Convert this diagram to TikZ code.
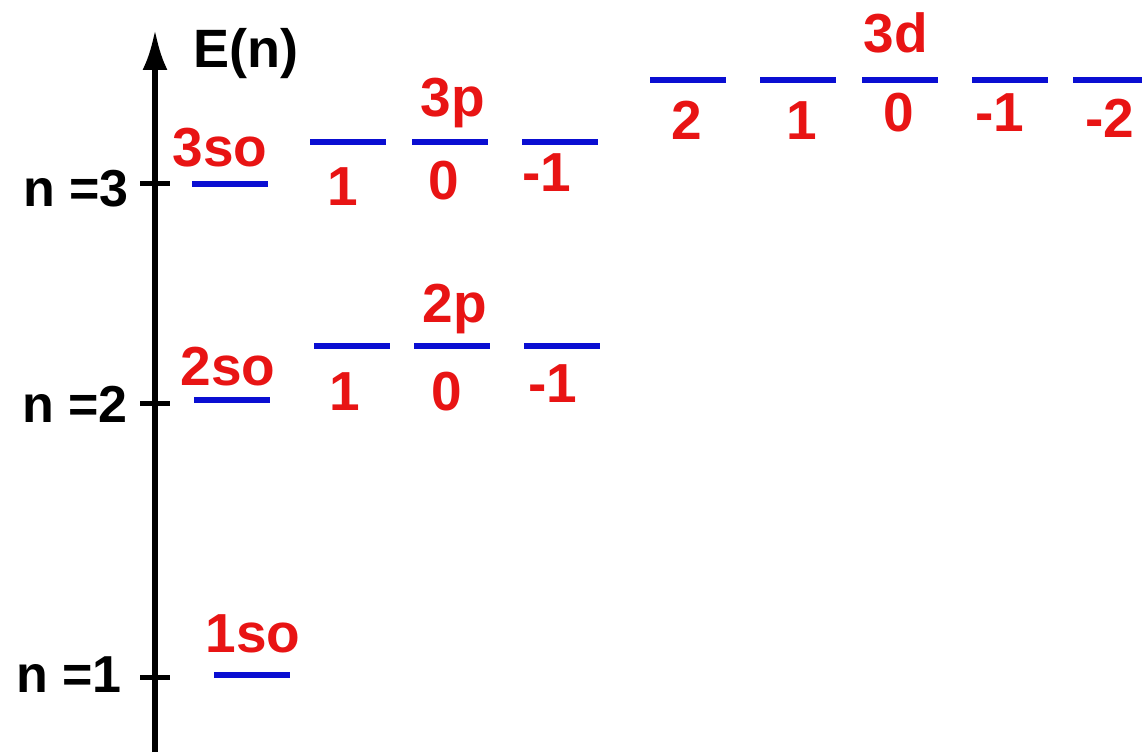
\documentclass[tikz,border=0pt]{standalone}
\usepackage{fontspec}
\setmainfont{Liberation Sans}
\usetikzlibrary{arrows.meta,positioning}
\definecolor{cblue}{HTML}{0A0ED2}
\definecolor{cred}{HTML}{E81414}

\begin{document}
\begin{tikzpicture}[x=1pt,y=-1pt,font=\bfseries]
  \useasboundingbox (0,0) rectangle (1142,754);
  \tikzstyle{lvl}=[fill=cblue,inner sep=0,minimum width=76pt,minimum height=6pt]
  \tikzstyle{orb}=[text=cred,inner sep=0,anchor=base,font=\fontsize{55}{55}\selectfont\bfseries]
  \tikzstyle{nl}=[inner sep=0,anchor=base east,font=\fontsize{52}{52}\selectfont\bfseries]
  % energy axis
  \coordinate (bot) at (155,752);
  \coordinate (top) at (155,30);
  \draw[line width=5.5pt,-{Latex[length=40pt,width=25pt]}] (bot) -- (top);
  \node[inner sep=0,anchor=base west,font=\fontsize{54}{54}\selectfont\bfseries] (E) at (193,68) {E(n)};
  % ticks
  \coordinate (t3) at (155,184);
  \coordinate (t2) at (155,403);
  \coordinate (t1) at (155,677);
  \foreach \t in {t3,t2,t1}
    \draw[line width=5pt] ([xshift=-15pt]\t) -- ([xshift=15pt]\t);
  \node[nl] (n3) at (129,207) {n =3};
  \node[nl] (n2) at (128,422) {n =2};
  \node[nl] (n1) at (122,692) {n =1};
  % n = 3
  \node[lvl] (s3) at (230,184) {};
  \node[orb] (s3l) at (220,167) {3so};
  \node[lvl] (p31) at (348,142) {};
  \node[lvl] (p30) at (450,142) {};
  \node[lvl] (p3m1) at (560,142) {};
  \node[orb] (p3l) at (453,117) {3p};
  \node[orb] (p31l) at (343,205) {1};
  \node[orb] (p30l) at (444,200) {0};
  \node[orb] (p3m1l) at (547,192) {-1};
  \node[lvl] (d32) at (688,80) {};
  \node[lvl] (d31) at (798,80) {};
  \node[lvl] (d30) at (900,80) {};
  \node[lvl] (d3m1) at (1010,80) {};
  \node[lvl] (d3m2) at (1111,80) {};
  \node[orb] (d3l) at (896,53) {3d};
  \node[orb] (d32l) at (687,140) {2};
  \node[orb] (d31l) at (802,140) {1};
  \node[orb] (d30l) at (899,132) {0};
  \node[orb] (d3m1l) at (1000,132) {-1};
  \node[orb] (d3m2l) at (1110,138) {-2};
  % n = 2
  \node[lvl] (s2) at (232,400) {};
  \node[orb] (s2l) at (228,385) {2so};
  \node[lvl] (p21) at (352,346) {};
  \node[lvl] (p20) at (452,346) {};
  \node[lvl] (p2m1) at (562,346) {};
  \node[orb] (p2l) at (455,322) {2p};
  \node[orb] (p21l) at (345,410) {1};
  \node[orb] (p20l) at (447,410) {0};
  \node[orb] (p2m1l) at (553,402) {-1};
  % n = 1
  \node[lvl] (s1) at (252,675) {};
  \node[orb] (s1l) at (253,652) {1so};
\end{tikzpicture}
\end{document}
